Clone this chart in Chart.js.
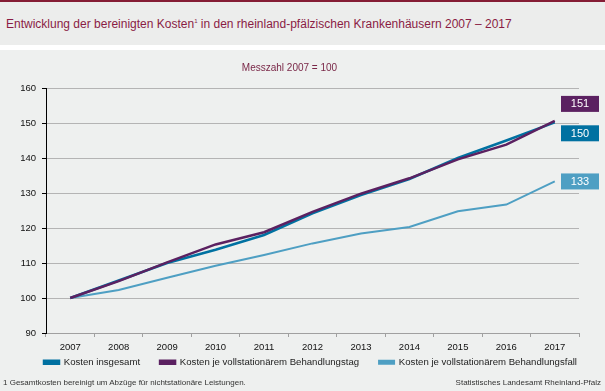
<!DOCTYPE html>
<html>
<head>
<meta charset="utf-8">
<script src="https://cdn.jsdelivr.net/npm/chart.js@4"></script>
<style>
  body { margin: 0; width: 605px; height: 391px; overflow: hidden; background: #fff;
         font-family: "Liberation Sans", Arial, sans-serif; position: relative; }
  #topbar { position: absolute; left: 0; top: 0; width: 605px; height: 2px; background: #851d35; }
  #head { position: absolute; left: 0; top: 2px; width: 605px; height: 43px; background: #ecedec; }
  #head span { position: absolute; left: 6px; top: 15px; font-size: 12px; color: #8a1c44; white-space: nowrap; }
  #head sup { font-size: 6px; vertical-align: 5px; }
  #panel { position: absolute; left: 0; top: 50px; width: 605px; height: 341px; background: #eef0ef; overflow: hidden; }
  #wrap { position: absolute; left: 0; top: 0; width: 605px; height: 348px; }
  .foot { position: absolute; top: 328px; font-size: 8px; color: #333; white-space: nowrap; }
</style>
</head>
<body>
<div id="topbar"></div>
<div id="head"><span>Entwicklung der bereinigten Kosten<sup>1</sup> in den rheinland-pfälzischen Krankenhäusern 2007 – 2017</span></div>
<div id="panel">
  <div id="wrap"><canvas id="costChart"></canvas></div>
  <div class="foot" style="left:3px">1 Gesamtkosten bereinigt um Abzüge für nichtstationäre Leistungen.</div>
  <div class="foot" style="right:4px">Statistisches Landesamt Rheinland-Pfalz</div>
</div>
<script>
// Messzahl 2007 = 100
const years = ["2007", "2008", "2009", "2010", "2011", "2012", "2013", "2014", "2015", "2016", "2017"];
const kostenInsgesamt = [100, 105, 110, 113.8, 118, 124.2, 129.4, 134, 140, 145, 150.2];
const kostenJeTag = [100, 104.8, 110.2, 115.3, 118.8, 124.6, 129.8, 134.2, 139.6, 143.8, 150.6];
const kostenJeFall = [100, 102.3, 105.8, 109.2, 112.3, 115.6, 118.4, 120.3, 124.8, 126.7, 133.3];
const yTicks = [90, 100, 110, 120, 130, 140, 150, 160];

const blue = "#0071a1";
const purple = "#5b2161";
const lightBlue = "#4e9fc3";

// boxes with the last value at the right edge
const endLabels = {
  id: "endLabels",
  afterDatasetsDraw(chart, args, opts) {
    const ctx = chart.ctx;
    const area = chart.chartArea;
    chart.data.datasets.forEach((ds, i) => {
      const meta = chart.getDatasetMeta(i);
      const last = meta.data[meta.data.length - 1];
      const cy = last.y + opts.offsets[i];
      const x = area.right - 18;
      ctx.save();
      ctx.fillStyle = ds.borderColor;
      ctx.fillRect(x, cy - 8, 38, 16);
      ctx.fillStyle = "#fff";
      ctx.font = "11px 'Liberation Sans', Arial, sans-serif";
      ctx.textAlign = "center";
      ctx.textBaseline = "middle";
      ctx.fillText(Math.round(ds.data[ds.data.length - 1]), x + 19, cy + 0.5);
      ctx.restore();
    });
  }
};

// pull the legend closer to the axis labels and a bit to the right
const legendShift = {
  id: "legendShift",
  afterLayout(chart, args, opts) {
    const lg = chart.legend;
    lg.top += opts.dy; lg.bottom += opts.dy;
    lg.left += opts.dx; lg.right += opts.dx;
  }
};

Chart.defaults.font.family = "'Liberation Sans', Arial, sans-serif";
Chart.defaults.color = "#222";

new Chart(document.getElementById("costChart"), {
  type: "line",
  data: {
    labels: years,
    datasets: [
      { label: "Kosten insgesamt", data: kostenInsgesamt, borderColor: blue, backgroundColor: blue, borderWidth: 2.5, order: 1 },
      { label: "Kosten je vollstationärem Behandlungstag", data: kostenJeTag, borderColor: purple, backgroundColor: purple, borderWidth: 2.5, order: 0 },
      { label: "Kosten je vollstationärem Behandlungsfall", data: kostenJeFall, borderColor: lightBlue, backgroundColor: lightBlue, borderWidth: 2, order: 2 }
    ]
  },
  options: {
    responsive: true,
    maintainAspectRatio: false,
    animation: false,
    elements: { point: { radius: 0 }, line: { tension: 0 } },
    layout: { padding: { left: 0, right: 26, top: 0, bottom: 0 } },
    plugins: {
      title: {
        display: true,
        text: "Messzahl 2007 = 100",
        color: "#7a2848",
        font: { size: 10, weight: "normal" },
        padding: { top: 12, bottom: 14 }
      },
      legend: {
        position: "bottom",
        labels: {
          boxWidth: 15, boxHeight: 3, padding: 20, font: { size: 9.6 }, color: "#222",
          sort: (a, b) => a.datasetIndex - b.datasetIndex
        }
      },
      legendShift: { dx: 21, dy: -21 },
      tooltip: { enabled: false },
      endLabels: { offsets: [11, -17, 0] }
    },
    scales: {
      x: {
        offset: true,
        grid: { offset: true, drawOnChartArea: false, color: "#a0a0a0", tickLength: 4 },
        border: { color: "#a0a0a0" },
        ticks: { font: { size: 9.5 }, color: "#111", padding: 5 }
      },
      y: {
        min: 90,
        max: 160,
        afterFit(axis) { axis.width = 46; },
        afterBuildTicks(axis) { axis.ticks = yTicks.map(v => ({ value: v })); },
        grid: { color: "#b4b4b4", tickColor: "#000", tickLength: 4 },
        border: { color: "#000" },
        ticks: { font: { size: 9.5 }, color: "#111", padding: 6 }
      }
    }
  },
  plugins: [endLabels, legendShift]
});
</script>
</body>
</html>
